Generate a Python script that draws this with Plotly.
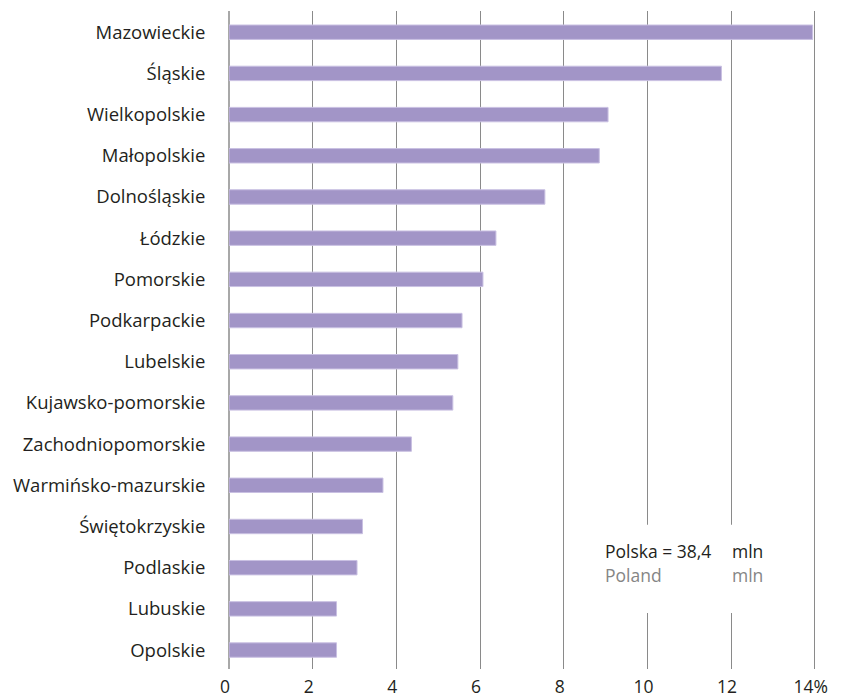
import plotly.graph_objects as go

regions = ["Mazowieckie", "Śląskie", "Wielkopolskie", "Małopolskie", "Dolnośląskie",
           "Łódzkie", "Pomorskie", "Podkarpackie", "Lubelskie", "Kujawsko-pomorskie",
           "Zachodniopomorskie", "Warmińsko-mazurskie", "Świętokrzyskie", "Podlaskie",
           "Lubuskie", "Opolskie"]
shares = [13.95, 11.77, 9.06, 8.85, 7.55, 6.38, 6.07, 5.57, 5.47, 5.35,
          4.36, 3.68, 3.19, 3.06, 2.57, 2.57]
x_ticks = [0, 2, 4, 6, 8, 10, 12, 14]
x_tick_labels = ["0", "2", "4", "6", "8", "10", "12", "14%"]

FONT = "Open Sans"

fig = go.Figure(go.Bar(
    y=regions, x=shares, orientation="h",
    width=0.35,
    marker=dict(color="#a295c7", line=dict(color="#c9c0e2", width=1)),
    hoverinfo="skip",
))

fig.update_layout(
    width=833, height=689,
    margin=dict(l=221, r=25, t=3, b=28),
    paper_bgcolor="white", plot_bgcolor="white",
    showlegend=False,
    font=dict(family=FONT, size=17, color="#231f20"),
    xaxis=dict(range=[0, 14.03], tickvals=x_ticks, ticktext=x_tick_labels,
               automargin=False,
               showgrid=True, gridcolor="#8a8a8a", gridwidth=1,
               zeroline=True, zerolinecolor="#a8a8a8", zerolinewidth=1.5,
               showline=False,
               ticks="outside", ticklen=2, tickcolor="rgba(0,0,0,0)",
               ticklabelshift=-4,
               tickfont=dict(size=17.5, family=FONT, color="#231f20")),
    yaxis=dict(categoryorder="array", categoryarray=regions,
               automargin=False,
               range=[15.46, -0.515], showgrid=False, zeroline=False, showline=False,
               ticks="outside", ticklen=19, tickcolor="rgba(0,0,0,0)",
               tickfont=dict(size=18.5, family=FONT, color="#231f20")),
)

# white box interrupting gridlines behind the note
fig.add_shape(type="rect", xref="x", yref="y", x0=8.4, x1=13.65, y0=11.96, y1=14.1,
              fillcolor="white", line=dict(width=0), layer="above")

note = [("Polska = 38,4", 8.93, 12.6, "#231f20"), ("mln", 11.98, 12.6, "#231f20"),
        ("Poland", 8.93, 13.18, "#858585"), ("mln", 11.98, 13.18, "#858585")]
for txt, xx, yy, col in note:
    fig.add_annotation(text=txt, x=xx, y=yy, xref="x", yref="y",
                       xanchor="left", yanchor="middle", showarrow=False,
                       font=dict(size=17.5, family=FONT, color=col))

fig.write_html("out.html")
